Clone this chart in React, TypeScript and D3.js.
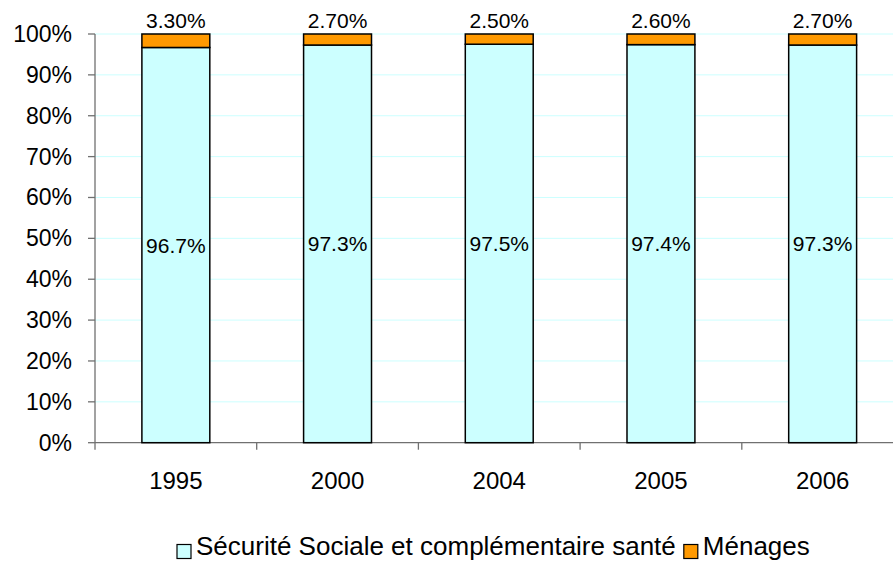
import React from "react";
import * as d3 from "d3";

const years = ["1995", "2000", "2004", "2005", "2006"];
const securiteSociale = [96.7, 97.3, 97.5, 97.4, 97.3];
const menages = [3.3, 2.7, 2.5, 2.6, 2.7];
const yTicks = [0, 10, 20, 30, 40, 50, 60, 70, 80, 90, 100];
const seriesNames = ["Sécurité Sociale et complémentaire santé", "Ménages"];
const seriesColors = ["#CCFFFF", "#FF9900"];

const W = 893;
const H = 562;
const left = 95;
const top = 34;
const bottom = 442.7;
const bandW = 161.7;
const font = "Arial, 'Liberation Sans', sans-serif";

const legendFont = 26;
const legendBox = 14;

export default function App() {
  const x = d3
    .scaleBand<string>()
    .domain(years)
    .range([left, left + bandW * years.length])
    .paddingInner(0.58)
    .paddingOuter(0.29);
  const xBounds = d3
    .scaleLinear()
    .domain([0, years.length])
    .range([left, left + bandW * years.length]);
  const y = d3.scaleLinear().domain([0, 100]).range([bottom, top]);

  // legend layout: measure text widths with a canvas context
  const ctx = document.createElement("canvas").getContext("2d");
  let w1 = 18.45 * legendFont;
  if (ctx) {
    ctx.font = `${legendFont}px 'Liberation Sans', Arial, sans-serif`;
    w1 = ctx.measureText(seriesNames[0]).width;
  }
  const gap = 5;
  const between = 8;
  const lx0 = 177;
  const lx1 = lx0 + legendBox + gap + w1 + between;
  const baseline = 555;
  const boxY = 544.5;

  return (
    <svg
      width={W}
      height={H}
      style={{ position: "absolute", left: 0, top: 0, background: "#fff" }}
      fontFamily={font}
    >
      {/* gridlines */}
      {yTicks.slice(1).map((t) => (
        <line
          key={"g" + t}
          x1={left}
          x2={W}
          y1={y(t)}
          y2={y(t)}
          stroke="#CCFFFF"
          strokeWidth={1}
        />
      ))}
      {/* y axis */}
      <line x1={left} x2={left} y1={top} y2={bottom} stroke="#707070" strokeWidth={1.3} />
      {yTicks.map((t) => (
        <g key={"y" + t}>
          <line x1={left - 7} x2={left} y1={y(t)} y2={y(t)} stroke="#707070" strokeWidth={1.3} />
          <text
            x={72}
            y={y(t)}
            textAnchor="end"
            dominantBaseline="central"
            fontSize={23}
            fill="#000"
          >
            {t}%
          </text>
        </g>
      ))}
      {/* x axis */}
      <line x1={left} x2={W} y1={bottom} y2={bottom} stroke="#707070" strokeWidth={1.3} />
      {d3.range(years.length + 1).map((i) => (
        <line
          key={"xt" + i}
          x1={xBounds(i)}
          x2={xBounds(i)}
          y1={bottom}
          y2={bottom + 7}
          stroke="#707070"
          strokeWidth={1.3}
        />
      ))}
      {years.map((yr) => (
        <text
          key={"xl" + yr}
          x={(x(yr) as number) + x.bandwidth() / 2}
          y={480}
          textAnchor="middle"
          dominantBaseline="central"
          fontSize={24}
        >
          {yr}
        </text>
      ))}
      {/* stacked bars */}
      {years.map((yr, i) => {
        const bx = x(yr) as number;
        const bw = x.bandwidth();
        const s = securiteSociale[i];
        const m = menages[i];
        return (
          <g key={"b" + yr}>
            <rect
              x={bx}
              y={y(s)}
              width={bw}
              height={y(0) - y(s)}
              fill={seriesColors[0]}
              stroke="#000"
              strokeWidth={1.5}
            />
            <rect
              x={bx}
              y={y(s + m)}
              width={bw}
              height={y(s) - y(s + m)}
              fill={seriesColors[1]}
              stroke="#000"
              strokeWidth={1.5}
            />
            <text
              x={bx + bw / 2}
              y={(y(0) + y(s)) / 2}
              textAnchor="middle"
              dominantBaseline="central"
              fontSize={21}
            >
              {s.toFixed(1)}%
            </text>
            <text
              x={bx + bw / 2}
              y={y(s + m) - 14}
              textAnchor="middle"
              dominantBaseline="central"
              fontSize={21}
            >
              {m.toFixed(2)}%
            </text>
          </g>
        );
      })}
      {/* legend */}
      <g>
        <rect
          x={lx0}
          y={boxY}
          width={legendBox}
          height={legendBox}
          fill={seriesColors[0]}
          stroke="#000"
          strokeWidth={1.2}
        />
        <text x={lx0 + legendBox + gap} y={baseline} fontSize={legendFont}>
          {seriesNames[0]}
        </text>
        <rect
          x={lx1}
          y={boxY}
          width={legendBox}
          height={legendBox}
          fill={seriesColors[1]}
          stroke="#000"
          strokeWidth={1.2}
        />
        <text x={lx1 + legendBox + gap} y={baseline} fontSize={legendFont}>
          {seriesNames[1]}
        </text>
      </g>
    </svg>
  );
}
